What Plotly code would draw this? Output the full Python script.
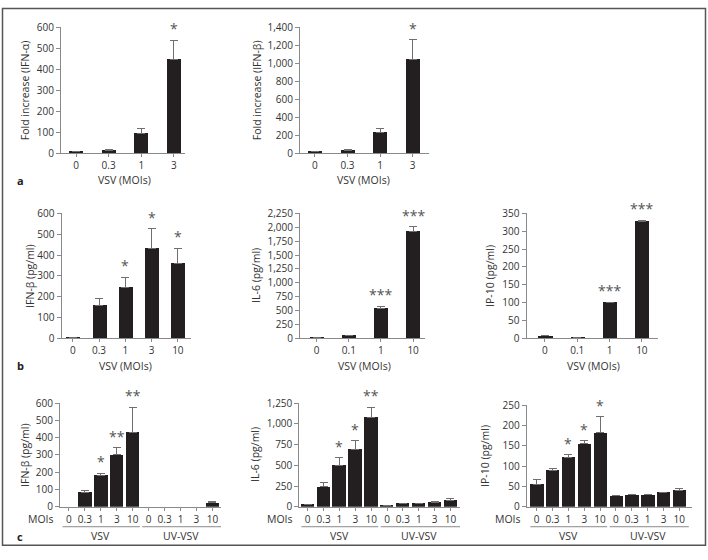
import plotly.graph_objects as go

W, H = 708, 560

# ---------------- data ----------------
a_mois = ["0", "0.3", "1", "3"]
a_ifna = [5, 12, 95, 445]
a_ifna_err = [2, 3, 20, 95]
a_ifna_sig = ["", "", "", "*"]
a_ifnb = [15, 30, 228, 1045]
a_ifnb_err = [3, 5, 40, 220]
a_ifnb_sig = ["", "", "", "*"]

b_mois1 = ["0", "0.3", "1", "3", "10"]
b_ifnb = [5, 160, 245, 430, 360]
b_ifnb_err = [0, 30, 48, 97, 73]
b_ifnb_sig = ["", "", "*", "*", "*"]
b_mois2 = ["0", "0.1", "1", "10"]
b_il6 = [20, 60, 535, 1920]
b_il6_err = [0, 0, 45, 90]
b_il6_sig = ["", "", "***", "***"]
b_ip10 = [7, 3, 100, 328]
b_ip10_err = [0, 0, 1, 3]
b_ip10_sig = ["", "", "***", "***"]

c_mois = ["0", "0.3", "1", "3", "10", "0", "0.3", "1", "3", "10"]
c_groups = ["VSV", "UV-VSV"]
c_ifnb = [0, 85, 183, 300, 430, 0, 0, 0, 0, 22]
c_ifnb_err = [0, 12, 10, 43, 145, 0, 0, 0, 0, 10]
c_ifnb_sig = ["", "", "*", "**", "**", "", "", "", "", ""]
c_il6 = [30, 240, 500, 695, 1080, 20, 45, 40, 55, 80]
c_il6_err = [0, 55, 90, 100, 120, 0, 0, 0, 7, 25]
c_il6_sig = ["", "", "*", "*", "**", "", "", "", "", ""]
c_ip10 = [55, 90, 122, 155, 182, 27, 30, 30, 35, 40]
c_ip10_err = [11, 5, 6, 7, 39, 0, 0, 0, 1, 6]
c_ip10_sig = ["", "", "*", "*", "*", "", "", "", "", ""]

# ---------------- layout helpers ----------------
def px(x):
    return x / W

def py(y):
    return 1 - y / H

FONT = "Open Sans"
TXT = "#333333"
AX = "#8a8a8a"
BAR = "#231f20"

panels = [
    dict(lab=a_mois, v=a_ifna, e=a_ifna_err, s=a_ifna_sig, yt="Fold increase (IFN-α)",
         yr=[0, 600], dt=100, xd=(61, 185), yd=(20, 149), xr=[-0.46, 3.34], bw=0.43, ytx=25),
    dict(lab=a_mois, v=a_ifnb, e=a_ifnb_err, s=a_ifnb_sig, yt="Fold increase (IFN-β)",
         yr=[0, 1400], dt=200, xd=(300, 429), yd=(20, 149), xr=[-0.46, 3.5], bw=0.43, ytx=257),
    dict(lab=b_mois1, v=b_ifnb, e=b_ifnb_err, s=b_ifnb_sig, yt="IFN-β (pg/ml)",
         yr=[0, 600], dt=100, xd=(61.5, 191), yd=(211, 339.5), xr=[-0.43, 4.5], bw=0.53, ytx=30),
    dict(lab=b_mois2, v=b_il6, e=b_il6_err, s=b_il6_sig, yt="IL-6 (pg/ml)",
         yr=[0, 2250], dt=250, xd=(300, 425), yd=(211, 339.5), xr=[-0.52, 3.37], bw=0.44, ytx=256),
    dict(lab=b_mois2, v=b_ip10, e=b_ip10_err, s=b_ip10_sig, yt="IP-10 (pg/ml)",
         yr=[0, 350], dt=50, xd=(526.5, 658), yd=(211, 339.5), xr=[-0.57, 3.5], bw=0.44, ytx=490),
    dict(lab=c_mois, v=c_ifnb, e=c_ifnb_err, s=c_ifnb_sig, yt="IFN-β (pg/ml)",
         yr=[0, 600], dt=100, xd=(60, 221), yd=(406, 512.5), xr=[-0.56, 9.54], bw=0.84, ytx=25),
    dict(lab=c_mois, v=c_il6, e=c_il6_err, s=c_il6_sig, yt="IL-6 (pg/ml)",
         yr=[0, 1250], dt=250, xd=(299.3, 460), yd=(406, 512.5), xr=[-0.53, 9.6], bw=0.84, ytx=255),
    dict(lab=c_mois, v=c_ip10, e=c_ip10_err, s=c_ip10_sig, yt="IP-10 (pg/ml)",
         yr=[0, 250], dt=50, xd=(526.7, 691.7), yd=(408, 512.5), xr=[-0.63, 9.78], bw=0.84, ytx=485),
]

fig = go.Figure()
layout = dict(
    width=W, height=H, margin=dict(l=0, r=0, t=0, b=0),
    paper_bgcolor="white", plot_bgcolor="white", showlegend=False,
    font=dict(family=FONT, size=10, color=TXT),
    bargap=0,
)
annotations = []
shapes = []

for i, p in enumerate(panels):
    n = i + 1
    xa = "x" if n == 1 else f"x{n}"
    ya = "y" if n == 1 else f"y{n}"
    xkey = "xaxis" if n == 1 else f"xaxis{n}"
    ykey = "yaxis" if n == 1 else f"yaxis{n}"
    pos = list(range(len(p["lab"])))
    # zero-height bars / zero errors are simply not drawn
    vals = [v if v > 0 else None for v in p["v"]]
    errs = [e if e > 0 else 0 for e in p["e"]]
    fig.add_trace(go.Bar(
        x=pos, y=vals, width=p["bw"], marker=dict(color=BAR, line=dict(width=0)),
        error_y=dict(type="data", symmetric=False, array=errs,
                     arrayminus=[0] * len(errs), color="#6f6f6f", thickness=1, width=4),
        xaxis=xa, yaxis=ya, hoverinfo="skip",
    ))
    layout[xkey] = dict(
        domain=[px(p["xd"][0]), px(p["xd"][1])], anchor=ya, range=p["xr"],
        tickmode="array", tickvals=pos, ticktext=p["lab"],
        showline=True, linecolor=AX, linewidth=1, ticks="outside", ticklen=3,
        tickcolor=AX, showgrid=False, zeroline=False, fixedrange=True,
        tickfont=dict(size=10, color=TXT, family=FONT),
    )
    layout[ykey] = dict(
        domain=[py(p["yd"][1]), py(p["yd"][0])], anchor=xa, range=p["yr"],
        dtick=p["dt"], tick0=0, tickformat=",d",
        showline=True, linecolor=AX, linewidth=1, ticks="outside", ticklen=4,
        tickcolor=AX, showgrid=False, zeroline=False, fixedrange=True,
        tickfont=dict(size=10, color=TXT, family=FONT),
    )
    annotations.append(dict(
        text=p["yt"], xref="paper", yref="paper", x=px(p["ytx"]),
        y=py((p["yd"][0] + p["yd"][1]) / 2), textangle=-90, showarrow=False,
        font=dict(size=10.5, color=TXT, family=FONT), xanchor="center", yanchor="middle",
    ))
    for k, s in enumerate(p["s"]):
        if s:
            annotations.append(dict(
                text=s, xref=xa, yref=ya, x=pos[k], y=p["v"][k] + p["e"][k],
                showarrow=False, yanchor="bottom", yshift=0,
                font=dict(size=14, color="#555555", family=FONT),
            ))
    if n <= 5:
        yb = p["yd"][1] + 28
        annotations.append(dict(
            text="VSV (MOIs)", xref=xa, yref="paper",
            x=(len(pos) - 1) / 2, y=py(yb), showarrow=False,
            font=dict(size=10.5, color=TXT, family=FONT), xanchor="center", yanchor="middle",
        ))
    else:
        annotations.append(dict(
            text="MOIs", xref="paper", yref="paper", x=px(p["xd"][0] - 4), y=py(525),
            showarrow=False, xanchor="right", yanchor="middle",
            font=dict(size=10.5, color=TXT, family=FONT),
        ))
        for g, (x0, x1) in enumerate([(-0.4, 4.45), (4.6, 9.6)]):
            shapes.append(dict(type="line", xref=xa, yref="paper", x0=x0, x1=x1,
                               y0=py(533), y1=py(533), line=dict(color=AX, width=1)))
            annotations.append(dict(
                text=c_groups[g], xref=xa, yref="paper", x=2 + 5 * g, y=py(543),
                showarrow=False, xanchor="center", yanchor="middle",
                font=dict(size=10.5, color=TXT, family=FONT),
            ))

for letter, yy in [("a", 177), ("b", 367), ("c", 543)]:
    annotations.append(dict(
        text=f"<b>{letter}</b>", xref="paper", yref="paper", x=px(20), y=py(yy),
        showarrow=False, xanchor="center", yanchor="middle",
        font=dict(size=11, color="#222222", family=FONT),
    ))

shapes.append(dict(type="rect", xref="paper", yref="paper", x0=px(2.5), x1=px(705.5),
                   y0=py(552), y1=py(0.5), line=dict(color="#555555", width=1.5)))

layout["annotations"] = annotations
layout["shapes"] = shapes
fig.update_layout(**layout)
fig.write_html("out.html", config={"displayModeBar": False},
               post_script="document.body.style.margin='0';document.body.style.overflow='hidden';")
